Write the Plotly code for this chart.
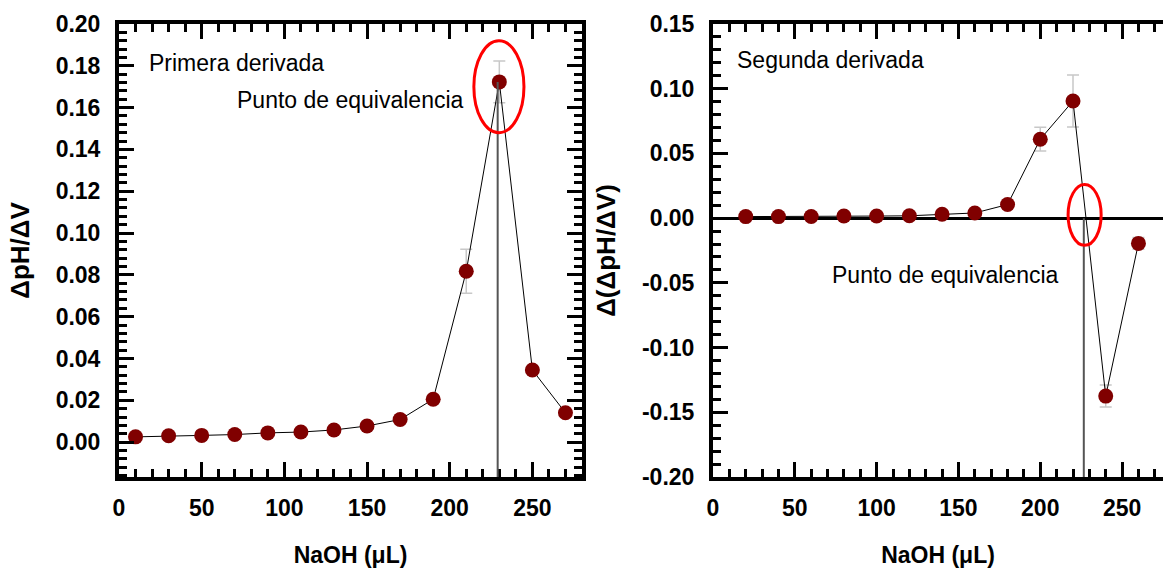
import plotly.graph_objects as go

# ---------------- data ----------------
# Primera derivada (left panel)
x_first = [10, 30, 50, 70, 90, 110, 130, 150, 170, 190, 210, 230, 250, 270]
y_first = [0.0025, 0.0030, 0.0032, 0.0036, 0.0044, 0.0048, 0.0058, 0.0077,
           0.0108, 0.0205, 0.0817, 0.1723, 0.0345, 0.0140]
err_first = [0, 0, 0, 0, 0, 0, 0, 0, 0, 0, 0.0105, 0.0100, 0, 0]

# Segunda derivada (right panel)
x_second = [20, 40, 60, 80, 100, 120, 140, 160, 180, 200, 220, 240, 260]
y_second = [0.0012, 0.0012, 0.0013, 0.0016, 0.0016, 0.0018, 0.0030, 0.0040,
            0.0105, 0.0610, 0.0905, -0.1375, -0.0195]
err_second = [0, 0, 0, 0, 0, 0, 0, 0, 0, 0.0092, 0.0200, 0.0085, 0.0045]

# equivalence points
eq_first_x, eq_first_y = 229, 0.1723
eq_second_x, eq_second_y = 226.6, 0.0

# highlight ellipses (x0, x1, y0, y1)
ell_first = [214.6, 244.9, 0.148, 0.192]
ell_second = [217.0, 237.2, -0.021, 0.026]

# axis ranges / ticks
x_range_first = [0, 280]
x_range_second = [0, 275]
y_range_first = [-0.0167, 0.20]
y_range_second = [-0.20, 0.15]
x_tickvals = [0, 50, 100, 150, 200, 250]
y_tickvals_first = [0.00, 0.02, 0.04, 0.06, 0.08, 0.10, 0.12, 0.14, 0.16, 0.18, 0.20]
y_tickvals_second = [-0.20, -0.15, -0.10, -0.05, 0.00, 0.05, 0.10, 0.15]
y_ticktext_second = ["-0.20", "-0.15", "-0.10", "-0.05", "0.00", "0.05", "0.10", "0.15"]

# ---------------- styles ----------------
FONT = "Liberation Sans, Arial, sans-serif"
MARKER = "#800000"
ERRC = "#c8c8c8"

fig = go.Figure()

fig.add_trace(go.Scatter(
    x=x_first, y=y_first, mode="lines+markers", xaxis="x", yaxis="y",
    line=dict(color="black", width=1),
    marker=dict(color=MARKER, size=15),
    error_y=dict(type="data", array=err_first, color=ERRC, thickness=1.5, width=6),
    showlegend=False, hoverinfo="skip"))

fig.add_trace(go.Scatter(
    x=x_second, y=y_second, mode="lines+markers", xaxis="x2", yaxis="y2",
    line=dict(color="black", width=1),
    marker=dict(color=MARKER, size=15),
    error_y=dict(type="data", array=err_second, color=ERRC, thickness=1.5, width=6),
    showlegend=False, hoverinfo="skip"))

tickfont = dict(family=FONT, size=23, color="black", weight="bold")
xtitlefont = dict(family=FONT, size=23, color="black", weight="bold")
ytitlefont = dict(family=FONT, size=26, color="black", weight="bold")

common_x = dict(
    ticks="inside", ticklen=15, tickwidth=2.5, tickcolor="black",
    showline=True, linewidth=4, linecolor="black", mirror="allticks",
    showgrid=False, zeroline=False, tickvals=x_tickvals, tickfont=tickfont,
    minor=dict(ticks="inside", ticklen=8, tickwidth=2.5, tickcolor="black",
               dtick=10, tick0=0, showgrid=False),
    ticklabelstandoff=7,
    title=dict(text="NaOH (μL)", font=xtitlefont, standoff=28),
)

fig.update_layout(
    width=1163, height=569,
    margin=dict(l=119, r=0, t=24, b=92),
    paper_bgcolor="white", plot_bgcolor="white",
    xaxis=dict(common_x, domain=[0, 463 / 1044], range=x_range_first, anchor="y"),
    yaxis=dict(
        domain=[0, 1], range=y_range_first, anchor="x",
        ticks="inside", ticklen=15, tickwidth=2.5, tickcolor="black",
        showline=True, linewidth=4, linecolor="black", mirror="allticks",
        showgrid=False, zeroline=False,
        tickvals=y_tickvals_first, tickformat=".2f", tickfont=tickfont,
        minor=dict(ticks="inside", ticklen=8, tickwidth=2.5, tickcolor="black",
                   dtick=0.004, tick0=0, showgrid=False),
        ticklabelstandoff=10,
        title=dict(text="ΔpH/ΔV", font=ytitlefont, standoff=20),
    ),
    xaxis2=dict(common_x, domain=[594 / 1044, 1], range=x_range_second, anchor="y2"),
    yaxis2=dict(
        domain=[0, 1], range=y_range_second, anchor="x2",
        ticks="inside", ticklen=15, tickwidth=2.5, tickcolor="black",
        showline=True, linewidth=4, linecolor="black", mirror=False,
        showgrid=False, zeroline=True, zerolinecolor="black", zerolinewidth=3,
        tickvals=y_tickvals_second, ticktext=y_ticktext_second, tickfont=tickfont,
        minor=dict(ticks="inside", ticklen=8, tickwidth=2.5, tickcolor="black",
                   dtick=0.01, tick0=0, showgrid=False),
        ticklabelstandoff=10,
        title=dict(text="Δ(ΔpH/ΔV)", font=ytitlefont, standoff=20),
    ),
    yaxis3=dict(
        overlaying="y2", side="right", anchor="x2", range=y_range_second,
        tickvals=y_tickvals_second, ticks="inside", ticklen=7, tickwidth=2.5,
        tickcolor="black", showticklabels=False, showline=False,
        showgrid=False, zeroline=False,
    ),
)

# vertical lines at the equivalence points
fig.add_shape(type="line", xref="x", yref="y",
              x0=eq_first_x, x1=eq_first_x, y0=y_range_first[0], y1=eq_first_y,
              line=dict(color="#555555", width=2))
fig.add_shape(type="line", xref="x2", yref="y2",
              x0=eq_second_x, x1=eq_second_x, y0=y_range_second[0], y1=eq_second_y,
              line=dict(color="#555555", width=2))

# red ellipses
fig.add_shape(type="circle", xref="x", yref="y",
              x0=ell_first[0], x1=ell_first[1], y0=ell_first[2], y1=ell_first[3],
              line=dict(color="red", width=3))
fig.add_shape(type="circle", xref="x2", yref="y2",
              x0=ell_second[0], x1=ell_second[1], y0=ell_second[2], y1=ell_second[3],
              line=dict(color="red", width=3))

annfont = dict(family=FONT, size=23, color="black")
fig.add_annotation(x=17, y=0.1813, xref="x", yref="y", text="Primera derivada",
                   showarrow=False, xanchor="left", yanchor="middle", font=annfont)
fig.add_annotation(x=209.8, y=0.1636, xref="x", yref="y", text="Punto de equivalencia",
                   showarrow=False, xanchor="right", yanchor="middle", font=annfont)
fig.add_annotation(x=13.4, y=0.1221, xref="x2", yref="y2", text="Segunda derivada",
                   showarrow=False, xanchor="left", yanchor="middle", font=annfont)
fig.add_annotation(x=212.7, y=-0.044, xref="x2", yref="y2", text="Punto de equivalencia",
                   showarrow=False, xanchor="right", yanchor="middle", font=annfont)

fig.write_html("out.html")
